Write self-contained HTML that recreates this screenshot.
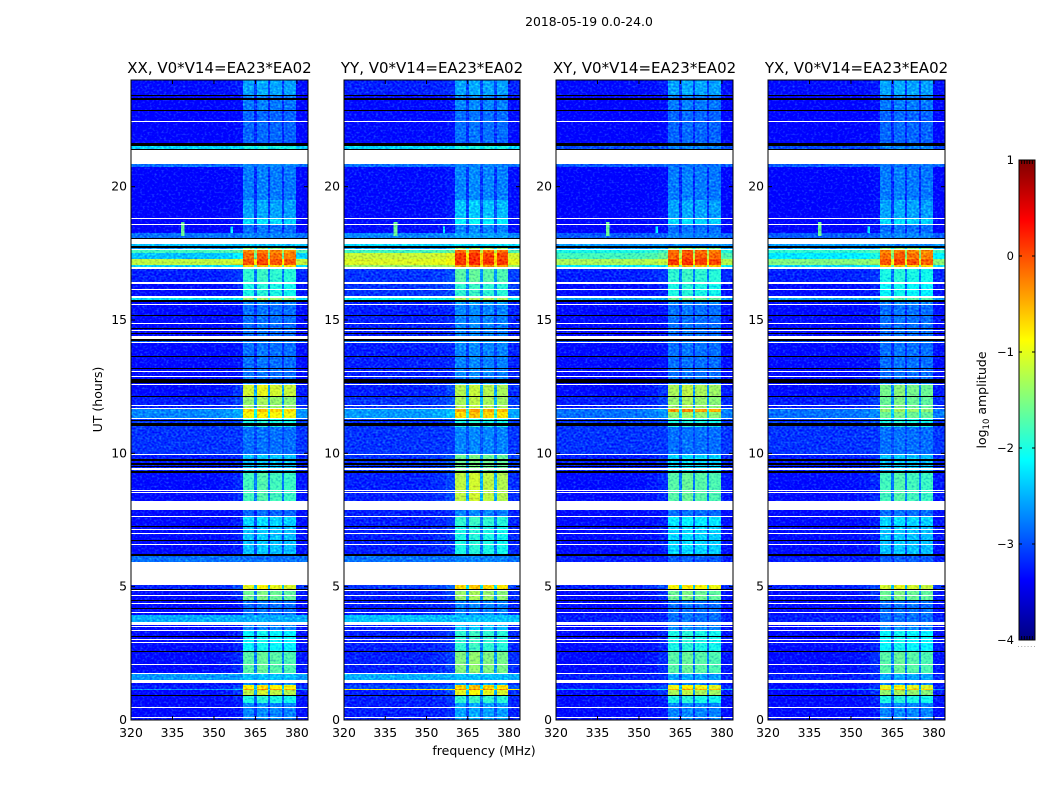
<!DOCTYPE html>
<html lang="en">
<head>
<meta charset="utf-8">
<title>2018-05-19 spectrogram</title>
<style>
html,body{margin:0;padding:0;background:#fff;}
svg{display:block;}
text{font-family:"DejaVu Sans","Liberation Sans",sans-serif;fill:#000;}
</style>
</head>
<body>
<svg id="figure" xmlns="http://www.w3.org/2000/svg" width="1050" height="800" viewBox="0 0 1050 800">
  <defs>
    <filter id="speckle" x="0" y="0" width="100%" height="100%" color-interpolation-filters="sRGB">
      <feTurbulence type="fractalNoise" baseFrequency="0.42 0.5" numOctaves="1" seed="7" result="n"/>
      <feColorMatrix in="n" type="matrix" values="0.5 0 0 0 0.26  1 0 0 0 0  0 0 0 0 0.525  0 0 0 0 1" result="g"/>
      <feComposite in="SourceGraphic" in2="g" operator="arithmetic" k1="0" k2="1" k3="0.8" k4="-0.42"/>
    </filter>
    <linearGradient id="jet-gradient" x1="0" y1="1" x2="0" y2="0"></linearGradient>
  </defs>
  <text x="589" y="26" font-size="12.4" text-anchor="middle">2018-05-19 0.0-24.0</text>
  <text x="484" y="755" font-size="12.5" text-anchor="middle">frequency (MHz)</text>
  <text transform="translate(102,399.5) rotate(-90)" font-size="12.5" text-anchor="middle">UT (hours)</text>
  <text transform="translate(986,400) rotate(-90)" font-size="12.5" text-anchor="middle">log<tspan font-size="8.5" dy="3">10</tspan><tspan dy="-3"> amplitude</tspan></text>
  <g id="panels"></g>
  <g id="colorbar"></g>
</svg>
<script>
// ---- Data: time segments (UT hours) and log10 amplitude levels per polarisation ----
const segmentStartHours = [0,0.65,0.93,1.12,1.16,1.32,1.5,1.75,2.55,3.36,3.69,3.95,4.5,4.92,5.93,6.21,7.3,7.65,8.21,9.25,9.96,11,11.31,11.55,11.7,12.15,12.6,12.8,14.16,14.41,15.6,15.69,15.9,16.41,16.95,17,17.06,17.29,17.51,17.66,17.78,18.05,18.25,18.6,18.81,19.5,20.75,21.38,21.62,22.88,23.44];
const xxBackground = [-3.3,-3.3,-3.3,-2.6,-3.2,-3.3,-2.6,-3.3,-3.3,-3.3,-2.5,-3.3,-3.3,-3.2,-2.8,-3.3,-3.3,-3.3,-3.3,-3.2,-3.1,-3.1,-2.7,-2.7,-3.2,-3.3,-3.3,-3.3,-2.9,-3.3,-3.3,-2.3,-3.3,-3.2,-2.6,-2.3,-1.2,-2.4,-1.8,-2.6,-2.4,-2.8,-3.35,-3.35,-3.35,-3.35,-2.8,-2.3,-3.35,-3.35,-3.3];
const xxInBand = [-2.7,-2.0,-1.2,-0.4,-0.85,-2.7,-2.4,-1.7,-2.1,-2.7,-2.5,-2.8,-1.6,-1.0,-2.8,-2.4,-2.3,-2.85,-1.8,-2.4,-2.8,-2.0,-0.9,-0.7,-1.4,-1.1,-2.7,-2.8,-2.7,-2.8,-2.7,-1.4,-2.0,-1.9,-1.0,-0.7,-0.05,-0.2,-0.3,-1.5,-2.4,-2.7,-2.8,-2.3,-2.55,-2.75,-2.7,-2.0,-2.85,-2.75,-2.55];
const yyBackground = [-3.2,-3.2,-3.2,-0.9,-3.0,-3.2,-2.5,-3.2,-3.2,-3.2,-2.4,-3.2,-3.2,-3.1,-2.8,-3.2,-3.2,-3.2,-3.2,-3.1,-3.1,-3.1,-2.6,-2.6,-3.1,-3.2,-3.2,-3.2,-2.8,-3.2,-3.2,-2.1,-3.1,-3.1,-2.4,-1.4,-1.05,-1.15,-1.8,-2.6,-2.3,-2.7,-3.3,-3.3,-3.3,-3.3,-2.8,-2.3,-3.3,-3.3,-3.2];
const yyInBand = [-2.55,-1.9,-1.0,-0.3,-0.7,-2.55,-2.4,-1.5,-1.9,-2.4,-2.4,-2.7,-1.4,-0.7,-2.7,-2.0,-1.9,-2.7,-1.2,-1.6,-2.7,-2.0,-0.7,-0.5,-1.3,-1.25,-2.55,-2.7,-2.55,-2.7,-2.55,-1.3,-1.9,-1.7,-0.8,-0.4,0.1,0.05,-0.15,-1.4,-2.3,-2.55,-2.7,-2.15,-2.4,-2.7,-2.7,-2.0,-2.8,-2.7,-2.55];
const xyBackground = [-3.3,-3.3,-3.3,-2.5,-3.2,-3.3,-3.2,-3.3,-3.3,-3.3,-3.2,-3.3,-3.3,-3.2,-3.2,-3.3,-3.3,-3.3,-3.3,-3.2,-3.1,-3.1,-2.8,-2.8,-3.2,-3.3,-3.3,-3.3,-3.0,-3.3,-3.3,-2.6,-3.3,-3.2,-2.6,-2.2,-1.3,-1.8,-2.0,-2.6,-2.6,-2.9,-3.35,-3.35,-3.35,-3.35,-2.9,-3.0,-3.35,-3.35,-3.3];
const xyInBand = [-2.7,-2.0,-1.3,-0.5,-0.95,-2.7,-2.55,-1.7,-2.0,-2.7,-2.8,-2.8,-1.6,-0.9,-2.9,-2.3,-2.2,-2.8,-1.7,-2.3,-2.8,-2.0,-1.4,-0.4,-1.4,-1.3,-2.7,-2.8,-2.7,-2.8,-2.7,-1.6,-2.0,-1.9,-1.0,-0.6,0.05,-0.1,-0.2,-1.5,-2.7,-2.7,-2.8,-2.3,-2.55,-2.75,-2.8,-2.7,-2.85,-2.75,-2.55];
const yxBackground = [-3.3,-3.3,-3.3,-2.7,-3.3,-3.3,-3.2,-3.3,-3.3,-3.3,-3.2,-3.3,-3.3,-3.2,-3.2,-3.3,-3.3,-3.3,-3.3,-3.2,-3.1,-3.1,-2.8,-2.8,-3.2,-3.3,-3.3,-3.3,-3.0,-3.3,-3.3,-2.6,-3.3,-3.2,-2.6,-2.3,-1.5,-2.2,-1.9,-2.6,-2.6,-2.9,-3.35,-3.35,-3.35,-3.35,-2.9,-3.0,-3.35,-3.35,-3.3];
const yxInBand = [-2.7,-2.0,-1.4,-0.6,-1.0,-2.7,-2.55,-1.7,-2.1,-2.7,-2.8,-2.8,-1.6,-1.1,-2.9,-2.4,-2.3,-2.8,-1.8,-2.4,-2.8,-2.0,-1.6,-1.4,-1.6,-1.55,-2.7,-2.8,-2.7,-2.8,-2.7,-1.7,-2.1,-2.0,-1.1,-0.7,-0.05,-0.2,-0.3,-1.5,-2.7,-2.7,-2.8,-2.3,-2.55,-2.75,-2.8,-2.7,-2.85,-2.75,-2.55];

// Frequency bins (MHz) and how strongly each follows the in-band level
const freqEdges = [320,345,352,357,360.4,364.5,365.5,369.6,370.4,374.6,375.5,379.6,384];
const bandWeights = [0,0.01,0.04,0.1,1,0.35,1.05,0.35,1,0.35,0.97,0.04];

// Flagged time ranges (hours): [start, end]
const whiteFlagHours = [[0.10,0.12],[0.45,0.48],[1.39,1.50],[1.73,1.75],[2.07,2.10],[2.89,2.91],[3.01,3.04],[3.33,3.36],[3.50,3.54],[3.57,3.69],[4.01,4.04],[4.35,4.38],[4.65,4.68],[4.84,4.88],[5.06,5.93],[6.57,6.60],[6.99,7.01],[7.13,7.16],[7.60,7.65],[7.88,8.21],[8.51,8.54],[8.59,8.63],[9.38,9.46],[9.94,9.96],[11.29,11.31],[11.67,11.70],[11.76,11.80],[12.55,12.60],[12.85,12.89],[13.06,13.09],[14.16,14.19],[14.30,14.41],[14.59,14.63],[14.85,14.88],[15.57,15.60],[15.84,15.90],[16.14,16.16],[16.36,16.41],[16.91,16.94],[16.97,17.00],[17.63,17.66],[17.85,18.05],[18.56,18.60],[18.77,18.81],[20.85,21.38],[22.44,22.48]];
const blackFlagHours = [[0.90,0.93],[2.54,2.58],[3.11,3.15],[4.16,4.20],[4.47,4.50],[4.90,4.92],[6.16,6.21],[6.72,6.75],[7.26,7.29],[9.25,9.34],[9.48,9.54],[9.57,9.65],[9.72,9.80],[11.04,11.13],[11.20,11.25],[12.11,12.15],[12.63,12.80],[13.15,13.19],[13.64,13.66],[14.22,14.28],[14.46,14.50],[14.65,14.69],[15.16,15.19],[15.69,15.75],[17.70,17.78],[18.05,18.09],[21.38,21.41],[21.54,21.62],[22.88,22.89],[23.26,23.34],[23.40,23.44]];

// Narrow interference features
const rfiFreqStart = [338.0,356.0];
const rfiFreqEnd = [339.4,356.8];
const rfiHourStart = [18.15,18.27];
const rfiHourEnd = [18.67,18.50];
const rfiLevels = [-1.6,-2.2];

// Axis tick labels
const freqTicks = [320,335,350,365,380];
const hourTicks = [0,5,10,15,20];
const colorbarTicks = [1,0,-1,-2,-3,-4];
const panelTitles = ['XX, V0*V14=EA23*EA02','YY, V0*V14=EA23*EA02','XY, V0*V14=EA23*EA02','YX, V0*V14=EA23*EA02'];
const panelBackgrounds = [xxBackground,yyBackground,xyBackground,yxBackground];
const panelInBands = [xxInBand,yyInBand,xyInBand,yxInBand];

// ---- Layout ----
const panelLefts = [131,344,556,768];
const panelRights = [308,520,733,945];
const plotTop = 80, plotBottom = 720;
const freqMin = 320, freqMax = 384, hourMin = 0, hourMax = 24, ampMin = -4, ampMax = 1;
const NS = 'http://www.w3.org/2000/svg';

function svgEl(tag, attrs, parent){
  const el = document.createElementNS(NS, tag);
  for (const k in attrs) el.setAttribute(k, attrs[k]);
  parent.appendChild(el);
  return el;
}
function jetChannel(x){ return Math.max(0, Math.min(1, 1.5 - Math.abs(4*x))); }
function jet(a){
  const v = Math.max(0, Math.min(1, (a-ampMin)/(ampMax-ampMin)));
  const r = jetChannel(v-0.75), g = jetChannel(v-0.5), b = jetChannel(v-0.25);
  return 'rgb('+Math.round(r*255)+','+Math.round(g*255)+','+Math.round(b*255)+')';
}
function yOfHour(h){ return plotBottom - (h-hourMin)/(hourMax-hourMin)*(plotBottom-plotTop); }
function xOfFreq(f,p){ return panelLefts[p] + (f-freqMin)/(freqMax-freqMin)*(panelRights[p]-panelLefts[p]); }
function tickLabel(v){ return String(v).replace('-', '\u2212'); }

const panelsG = document.getElementById('panels');
panelTitles.forEach(function(title,p){
  const g = svgEl('g', {}, panelsG);
  
  

  const heat = svgEl('g', {filter:'url(#speckle)','shape-rendering':'crispEdges'}, g);
  
  

  segmentStartHours.forEach(function(start,i){
    const end = i+1 < segmentStartHours.length ? segmentStartHours[i+1] : hourMax;
    const yTop = Math.round(yOfHour(end)), yBot = Math.round(yOfHour(start));
    bandWeights.forEach(function(w,c){
      const x0 = Math.round(xOfFreq(freqEdges[c],p)), x1 = Math.round(xOfFreq(freqEdges[c+1],p));
      const level = panelBackgrounds[p][i] + w*(panelInBands[p][i]-panelBackgrounds[p][i]);
      const cell = svgEl('rect', {x:x0,y:yTop,width:x1-x0,height:Math.max(yBot-yTop,0),fill:jet(level)}, heat);
      
      
    });
  });

  rfiLevels.forEach(function(level,i){
    const x0 = xOfFreq(rfiFreqStart[i],p), x1 = xOfFreq(rfiFreqEnd[i],p);
    const y0 = yOfHour(rfiHourEnd[i]), y1 = yOfHour(rfiHourStart[i]);
    const spike = svgEl('rect', {x:x0,y:y0,width:x1-x0,height:y1-y0,fill:jet(level)}, heat);
    
    
  });

  function drawFlags(ranges,color,name){
    ranges.forEach(function(r){
      const yTop = Math.round(yOfHour(r[1]));
      const h = Math.max(1, Math.round(yOfHour(r[0])) - yTop);
      const band = svgEl('rect', {x:panelLefts[p],y:yTop,width:panelRights[p]-panelLefts[p],height:h,fill:color,'shape-rendering':'crispEdges'}, g);
      
      
    });
  }
  drawFlags(blackFlagHours,'#000','black-flag-band');
  drawFlags(whiteFlagHours,'#fff','white-flag-band');

  const frame = svgEl('rect', {x:panelLefts[p],y:plotTop,width:panelRights[p]-panelLefts[p],height:plotBottom-plotTop,fill:'none',stroke:'#000','stroke-width':1}, g);
  
  

  const titleEl = svgEl('text', {x:(panelLefts[p]+panelRights[p])/2,y:73,'font-size':15,'text-anchor':'middle'}, g);
  titleEl.textContent = title;
  
  

  freqTicks.forEach(function(f){
    const x = xOfFreq(f,p);
    [[plotBottom,plotBottom-4],[plotTop,plotTop+4]].forEach(function(t){
      const tick = svgEl('line', {x1:x,x2:x,y1:t[0],y2:t[1],stroke:'#000','stroke-width':1}, g);
      
      
    });
    const lab = svgEl('text', {x:x,y:737,'font-size':12.4,'text-anchor':'middle'}, g);
    lab.textContent = tickLabel(f);
    
    
  });

  hourTicks.forEach(function(h){
    const y = yOfHour(h);
    [[panelLefts[p],panelLefts[p]+4],[panelRights[p],panelRights[p]-4]].forEach(function(t){
      const tick = svgEl('line', {x1:t[0],x2:t[1],y1:y,y2:y,stroke:'#000','stroke-width':1}, g);
      
      
    });
    const lab = svgEl('text', {x:panelLefts[p]-4,y:y+4,'font-size':12.4,'text-anchor':'end'}, g);
    lab.textContent = tickLabel(h);
    
    
  });
});

// ---- Colorbar ----
const grad = document.getElementById('jet-gradient');
for (let s = 0; s <= 64; s++){
  const stop = svgEl('stop', {offset:(s/64*100)+'%','stop-color':jet(ampMin+(ampMax-ampMin)*s/64)}, grad);
  
  
}
const cbar = document.getElementById('colorbar');
const cbLeft = 1019, cbRight = 1035, cbTop = 160, cbBottom = 640;
function yOfAmp(a){ return cbBottom - (a-ampMin)/(ampMax-ampMin)*(cbBottom-cbTop); }
const cbFill = svgEl('rect', {x:cbLeft,y:cbTop,width:cbRight-cbLeft,height:cbBottom-cbTop,fill:'url(#jet-gradient)',stroke:'#000','stroke-width':1}, cbar);


colorbarTicks.forEach(function(a){
  const y = yOfAmp(a);
  [[cbLeft,cbLeft+3],[cbRight,cbRight-3]].forEach(function(t){
    const tick = svgEl('line', {x1:t[0],x2:t[1],y1:y,y2:y,stroke:'#000','stroke-width':1}, cbar);
    
    
  });
  const lab = svgEl('text', {x:cbLeft-5,y:y+4,'font-size':11.5,'text-anchor':'end'}, cbar);
  lab.textContent = tickLabel(a);
  
  
});
for (let k = 1; k <= 5; k++){
  const x = cbLeft + k*(cbRight-cbLeft)/6;
  [[cbTop,cbTop+4],[cbBottom,cbBottom-4]].forEach(function(t){
    const tick = svgEl('line', {x1:x,x2:x,y1:t[0],y2:t[1],stroke:'#000','stroke-width':1}, cbar);
    
    
  });
}
for (let k = 0; k < 6; k++){
  const dot = svgEl('rect', {x:1018+k*3.2,y:646,width:1,height:1,fill:'#aaa'}, cbar);
  
  
}
</script>
</body>
</html>
